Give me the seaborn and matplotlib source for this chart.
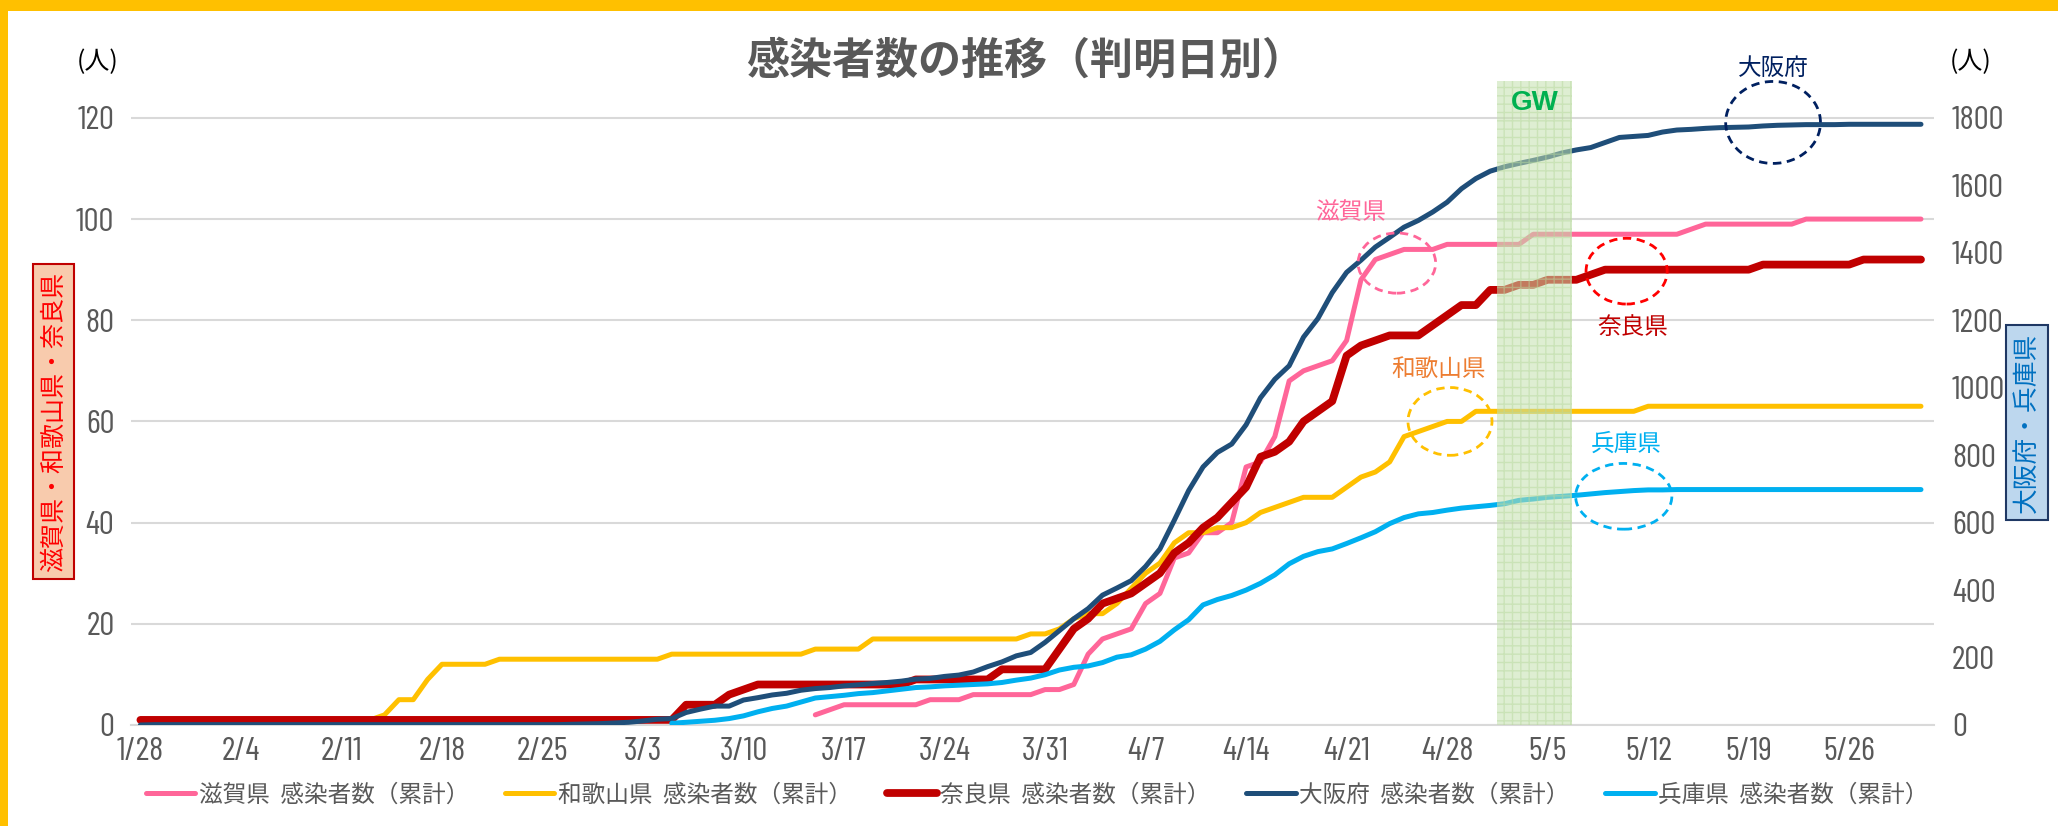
import matplotlib
matplotlib.use("Agg")
import matplotlib.pyplot as plt
import matplotlib.font_manager as fm
from matplotlib.patches import Ellipse, Rectangle
from matplotlib.lines import Line2D
import numpy as np
import pandas as pd
import seaborn as sns

# day 0 = 1/28, last day = 5/31
days = list(range(125))
tick_days = [0, 7, 14, 21, 28, 35, 42, 49, 56, 63, 70, 77, 84, 91, 98, 105, 112, 119]
tick_labels = ["1/28", "2/4", "2/11", "2/18", "2/25", "3/3", "3/10", "3/17", "3/24",
               "3/31", "4/7", "4/14", "4/21", "4/28", "5/5", "5/12", "5/19", "5/26"]
left_ticks = [0, 20, 40, 60, 80, 100, 120]
right_ticks = [0, 200, 400, 600, 800, 1000, 1200, 1400, 1600, 1800]

N = None
# left axis (人)
shiga = [N, N, N, N, N, N, N,  N, N, N, N, N, N, N,  N, N, N, N, N, N, N,
         N, N, N, N, N, N, N,  N, N, N, N, N, N, N,  N, N, N, N, N, N, N,
         N, N, N, N, N, 2, 3,  4, 4, 4, 4, 4, 4, 5,  5, 5, 6, 6, 6, 6, 6,
         7, 7, 8, 14, 17, 18, 19,  24, 26, 33, 34, 38, 38, 40,
         51, 52, 57, 68, 70, 71, 72,  76, 88, 92, 93, 94, 94, 94,
         95, 95, 95, 95, 95, 95, 97,  97, 97, 97, 97, 97, 97, 97,
         97, 97, 97, 98, 99, 99, 99,  99, 99, 99, 99, 100, 100, 100,
         100, 100, 100, 100, 100, 100]
wakayama = [1, 1, 1, 1, 1, 1, 1,  1, 1, 1, 1, 1, 1, 1,  1, 1, 1, 2, 5, 5, 9,
            12, 12, 12, 12, 13, 13, 13,  13, 13, 13, 13, 13, 13, 13,
            13, 13, 14, 14, 14, 14, 14,  14, 14, 14, 14, 14, 15, 15,
            15, 15, 17, 17, 17, 17, 17,  17, 17, 17, 17, 17, 17, 18,
            18, 19, 21, 22, 22, 24, 27,  30, 32, 36, 38, 38, 39, 39,
            40, 42, 43, 44, 45, 45, 45,  47, 49, 50, 52, 57, 58, 59,
            60, 60, 62, 62, 62, 62, 62,  62, 62, 62, 62, 62, 62, 62,
            63, 63, 63, 63, 63, 63, 63,  63, 63, 63, 63, 63, 63, 63,
            63, 63, 63, 63, 63, 63]
nara = [1, 1, 1, 1, 1, 1, 1,  1, 1, 1, 1, 1, 1, 1,  1, 1, 1, 1, 1, 1, 1,
        1, 1, 1, 1, 1, 1, 1,  1, 1, 1, 1, 1, 1, 1,  1, 1, 1, 4, 4, 4, 6,
        7, 8, 8, 8, 8, 8, 8,  8, 8, 8, 8, 8, 9, 9,  9, 9, 9, 9, 11, 11, 11,
        11, 15, 19, 21, 24, 25, 26,  28, 30, 34, 36, 39, 41, 44,
        47, 53, 54, 56, 60, 62, 64,  73, 75, 76, 77, 77, 77, 79,
        81, 83, 83, 86, 86, 87, 87,  88, 88, 88, 89, 90, 90, 90,
        90, 90, 90, 90, 90, 90, 90,  90, 91, 91, 91, 91, 91, 91,
        91, 92, 92, 92, 92, 92]
# right axis (人)
osaka = [0, 1, 1, 1, 1, 1, 1,  1, 1, 1, 1, 1, 1, 1,  1, 1, 1, 1, 1, 1, 1,
         1, 1, 1, 1, 1, 1, 1,  1, 1, 2, 3, 4, 6, 8,
         12, 17, 19, 37, 47, 56, 56,  74, 81, 89, 94, 103, 108, 111,
         116, 119, 123, 126, 130, 136, 138,  144, 148, 157, 173, 187, 205, 215,
         245, 280, 315, 345, 385, 406, 428,  470, 522, 607, 695, 765, 808, 833,
         890, 970, 1025, 1065, 1150, 1205, 1282,  1342, 1378, 1417, 1446, 1476, 1496, 1521,
         1550, 1590, 1620, 1642, 1655, 1665, 1674,  1684, 1696, 1705, 1712, 1727, 1742, 1745,
         1748, 1758, 1764, 1766, 1769, 1771, 1772,  1773, 1776, 1778, 1779, 1780, 1780, 1780,
         1781, 1781, 1781, 1781, 1781, 1781]
hyogo = [N, N, N, N, N, N, N,  N, N, N, N, N, N, N,  N, N, N, N, N, N, N,
         N, N, N, N, N, N, N,  N, N, N, N, N, N, N,  N, N, 5, 8, 11, 14, 19,
         27, 39, 49, 56, 68, 80, 84,  88, 93, 96, 101, 106, 111, 113,
         116, 118, 120, 122, 126, 133, 139,  149, 163, 171, 175, 185, 201, 208,
         225, 248, 282, 312, 356, 372, 384,  400, 420, 445, 478, 500, 514, 522,
         538, 555, 573, 597, 615, 626, 630,  637, 643, 647, 651, 656, 666, 670,
         675, 678, 681, 685, 689, 692, 695,  697, 697, 698, 698, 698, 698, 698,
         698, 698, 698, 698, 698, 698, 698,  698, 698, 698, 698, 698, 698]

df = pd.DataFrame({"day": days, "shiga": shiga, "wakayama": wakayama, "nara": nara,
                   "osaka": osaka, "hyogo": hyogo}).astype(float)

sns.set_style("white")
plt.rcParams["font.family"] = ["Noto Sans CJK JP", "DejaVu Sans"]

# a narrow face for the axis numbers
installed = {f.name for f in fm.fontManager.ttflist}
num_font = next((n for n in ["Liberation Sans Narrow", "Arial Narrow", "Barlow Condensed",
                             "Roboto Condensed", "Archivo Narrow", "Asap Condensed"]
                 if n in installed), None)
num_size = {"Barlow Condensed": 24}.get(num_font, 20 if num_font else 17)

GREY = "#595959"
C_SHIGA, C_WAKA, C_NARA, C_OSAKA, C_HYOGO = "#ff6699", "#ffc000", "#c00000", "#1f4e79", "#00b0f0"

fig = plt.figure(figsize=(20.58, 8.26), dpi=100)
ax = fig.add_axes([0.0637, 0.1223, 0.876, 0.7797])
ax2 = ax.twinx()

kw = dict(solid_capstyle="round", solid_joinstyle="round", legend=False)
sns.lineplot(data=df, x="day", y="shiga", ax=ax, color=C_SHIGA, linewidth=3.6, **kw)
sns.lineplot(data=df, x="day", y="wakayama", ax=ax, color=C_WAKA, linewidth=3.6, **kw)
sns.lineplot(data=df, x="day", y="nara", ax=ax, color=C_NARA, linewidth=5.6, **kw)
sns.lineplot(data=df, x="day", y="osaka", ax=ax2, color=C_OSAKA, linewidth=3.6, **kw)
sns.lineplot(data=df, x="day", y="hyogo", ax=ax2, color=C_HYOGO, linewidth=3.6, **kw)

ax.set_xlim(-0.65, 124.9)
ax.set_ylim(0, 127.3)
ax2.set_ylim(0, 127.3 * 15)
ax.set_xticks(tick_days)
ax.set_xticklabels(tick_labels)
ax.set_yticks(left_ticks)
ax2.set_yticks(right_ticks)
ax.set_xlabel("")
ax.set_ylabel("")
ax2.set_ylabel("")
ax.grid(axis="y", color="#d9d9d9", linewidth=1.5)
ax.grid(axis="x", visible=False)
for a in (ax, ax2):
    for s in a.spines.values():
        s.set_visible(False)
ax.spines["bottom"].set_visible(True)
ax.spines["bottom"].set_color("#d9d9d9")
ax.spines["bottom"].set_linewidth(1.5)
ax.tick_params(axis="x", length=5, width=1.2, color="#d9d9d9", pad=4, labelsize=num_size, labelcolor=GREY)
ax.tick_params(axis="y", length=0, pad=12, labelsize=num_size, labelcolor=GREY)
ax2.tick_params(axis="y", length=0, pad=13 if num_font else 9, labelsize=num_size, labelcolor=GREY)
if num_font:
    for lab in ax.get_xticklabels() + ax.get_yticklabels() + ax2.get_yticklabels():
        lab.set_family(num_font)

# GW band on top of the lines
ax2.axvspan(94.5, 99.7, facecolor=(0.77, 0.88, 0.68, 0.55), edgecolor=(0.72, 0.85, 0.62, 0.5),
            hatch="++", linewidth=0, zorder=6)
ax2.text(97.1, 122.9 * 15, "GW", color="#00b050", fontsize=20, fontweight="bold",
         family="Liberation Sans", ha="center", va="center", zorder=7)

# dashed circles and labels (positions in left-axis units, scaled for ax2)
marks = [("滋賀県", C_SHIGA, "#ff6699", (84.3, 101.2), (87.5, 91.3), 5.4, 11.9),
         ("和歌山県", "#ed7d31", "#ffc000", (90.4, 70.2), (91.2, 60.0), 5.85, 13.4),
         ("奈良県", C_NARA, "#ff0000", (103.9, 78.5), (103.5, 89.7), 5.65, 13.0),
         ("兵庫県", C_HYOGO, "#00b0f0", (103.5, 55.5), (103.3, 45.2), 6.7, 13.0),
         ("大阪府", "#002060", "#002060", (113.7, 129.8), (113.7, 119.1), 6.6, 16.2)]
for txt, tcol, ecol, tpos, cpos, w, h in marks:
    ax2.add_patch(Ellipse((cpos[0], cpos[1] * 15), w, h * 15, fill=False, edgecolor=ecol,
                          linewidth=2, linestyle=(0, (3, 2)), zorder=8, clip_on=False))
    ax2.text(tpos[0], tpos[1] * 15, txt, color=tcol, fontsize=17, ha="center", va="center",
             zorder=8, clip_on=False)

fig.text(0.4985, 0.927, "感染者数の推移（判明日別）", fontsize=31, fontweight="bold", color=GREY,
         ha="center", va="center")
fig.text(0.0476, 0.925, "(人)", fontsize=18, color="black", ha="center", va="center")
fig.text(0.9577, 0.925, "(人)", fontsize=18, color="black", ha="center", va="center")

fig.text(0.0262, 0.4895, "滋賀県・和歌山県・奈良県", rotation=90, fontsize=18, color="#ff0000",
         ha="center", va="center",
         bbox=dict(boxstyle="square,pad=0.3", facecolor="#f8cbad", edgecolor="#c00000", linewidth=1.5))
fig.text(0.9850, 0.4885, "大阪府・兵庫県", rotation=90, fontsize=18.5, color="#0070c0",
         ha="center", va="center",
         bbox=dict(boxstyle="square,pad=0.3", facecolor="#bdd7ee", edgecolor="#1f3864", linewidth=1.5))

series_labels = ["滋賀県  感染者数（累計）", "和歌山県  感染者数（累計）", "奈良県  感染者数（累計）",
                 "大阪府  感染者数（累計）", "兵庫県  感染者数（累計）"]
handles = [Line2D([], [], color=C_SHIGA, linewidth=3.6, solid_capstyle="round"),
           Line2D([], [], color=C_WAKA, linewidth=3.6, solid_capstyle="round"),
           Line2D([], [], color=C_NARA, linewidth=5.6, solid_capstyle="round"),
           Line2D([], [], color=C_OSAKA, linewidth=3.6, solid_capstyle="round"),
           Line2D([], [], color=C_HYOGO, linewidth=3.6, solid_capstyle="round")]
fig.legend(handles, series_labels, loc="center", bbox_to_anchor=(0.504, 0.0375), ncol=5,
           frameon=False, fontsize=17, handlelength=2.1, handletextpad=0.15, columnspacing=1.5,
           labelcolor=GREY)

# yellow frame (top and left)
fig.patches.append(Rectangle((0, 1 - 11 / 826), 1, 11 / 826, transform=fig.transFigure,
                             facecolor="#ffc000", edgecolor="none"))
fig.patches.append(Rectangle((0, 0), 8 / 2058, 1, transform=fig.transFigure,
                             facecolor="#ffc000", edgecolor="none"))

fig.savefig("out.png", dpi=100)
